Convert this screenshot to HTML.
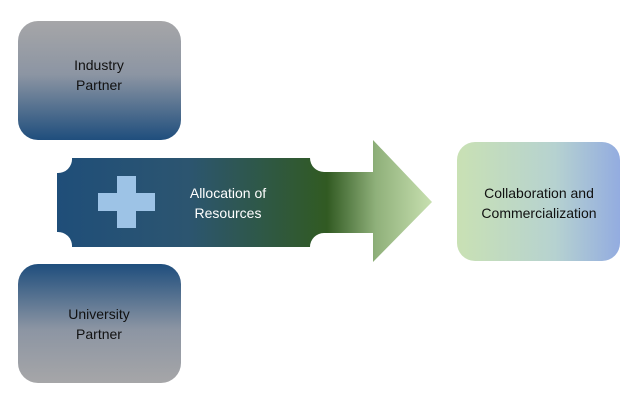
<!DOCTYPE html>
<html><head><meta charset="utf-8"><style>html,body{margin:0;padding:0;background:#fff;}svg{display:block}</style></head><body>
<svg width="640" height="404" viewBox="0 0 640 404" xmlns="http://www.w3.org/2000/svg">
<defs>
<linearGradient id="gTop" x1="0" y1="0" x2="0" y2="1"><stop offset="0" stop-color="#a6a6a8"/><stop offset="0.45" stop-color="#8c95a3"/><stop offset="1" stop-color="#1f4e7d"/></linearGradient>
<linearGradient id="gBot" x1="0" y1="0" x2="0" y2="1"><stop offset="0" stop-color="#1f4e7d"/><stop offset="0.55" stop-color="#8c95a3"/><stop offset="1" stop-color="#a6a6a8"/></linearGradient>
<linearGradient id="gArr" gradientUnits="userSpaceOnUse" x1="57" y1="0" x2="432" y2="0"><stop offset="0" stop-color="#1f4e79"/><stop offset="0.35" stop-color="#2c5570"/><stop offset="0.72" stop-color="#315a22"/><stop offset="0.85" stop-color="#8fb07a"/><stop offset="1" stop-color="#c8e0b0"/></linearGradient>
<linearGradient id="gR" x1="0" y1="0" x2="1" y2="0"><stop offset="0" stop-color="#c9e1b4"/><stop offset="0.6" stop-color="#b6d2d0"/><stop offset="1" stop-color="#93ace0"/></linearGradient>
</defs>
<rect x="18" y="21" width="163" height="119" rx="20" fill="url(#gTop)"/>
<rect x="18" y="264" width="163" height="119" rx="20" fill="url(#gBot)"/>
<path d="M72,158 L310,158 A14,14 0 0 0 324,172 L373,172 L373,140 L432,202 L373,262 L373,233 L324,233 A14,14 0 0 0 310,247 L72,247 A14,14 0 0 0 57,232 L57,173 A14,14 0 0 0 72,158 Z" fill="url(#gArr)"/>
<rect x="98" y="193" width="57" height="18" fill="#9dc3e6"/>
<rect x="117" y="176" width="19" height="52" fill="#9dc3e6"/>
<rect x="457" y="142" width="163" height="119" rx="18" fill="url(#gR)"/>
<g font-family="Liberation Sans, sans-serif" font-size="14" text-anchor="middle">
<text x="99" y="70" fill="#111">Industry</text>
<text x="99" y="90" fill="#111">Partner</text>
<text x="99" y="319" fill="#111">University</text>
<text x="99" y="339" fill="#111">Partner</text>
<text x="228" y="198" fill="#fff">Allocation of</text>
<text x="228" y="218" fill="#fff">Resources</text>
<text x="539" y="198" fill="#111">Collaboration and</text>
<text x="539" y="218" fill="#111">Commercialization</text>
</g>
</svg>
</body></html>
